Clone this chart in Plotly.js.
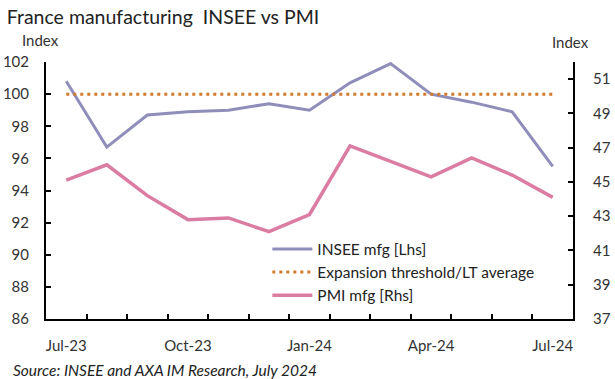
<!DOCTYPE html>
<html>
<head>
<meta charset="utf-8">
<script src="https://cdn.plot.ly/plotly-3.0.1.min.js"></script>
<style>html,body{margin:0;padding:0;background:#fff;}#chart{width:615px;height:379px;}</style>
</head>
<body>
<div id="chart"></div>
<script>
const months = ["Jul-23","Aug-23","Sep-23","Oct-23","Nov-23","Dec-23","Jan-24","Feb-24","Mar-24","Apr-24","May-24","Jun-24","Jul-24"];
const inseeMfg = [100.8, 96.7, 98.7, 98.9, 99.0, 99.4, 99.0, 100.7, 101.9, 100.0, 99.5, 98.9, 95.5];
const threshold = [100, 100, 100, 100, 100, 100, 100, 100, 100, 100, 100, 100, 100];
const pmiMfg = [45.1, 46.0, 44.2, 42.8, 42.9, 42.1, 43.1, 47.1, 46.2, 45.3, 46.4, 45.4, 44.1];

const FONT = "Lato, 'Open Sans', sans-serif";
const traces = [
  {x: months, y: inseeMfg, name: "INSEE mfg [Lhs]", type: "scatter", mode: "lines",
   line: {color: "#8F8DBA", width: 3}, yaxis: "y"},
  {x: months, y: threshold, name: "Expansion threshold/LT average", type: "scatter", mode: "lines",
   line: {color: "#D27A2C", width: 3, dash: "3px,4px"}, yaxis: "y"},
  {x: months, y: pmiMfg, name: "PMI mfg [Rhs]", type: "scatter", mode: "lines",
   line: {color: "#DB7CA3", width: 3.5}, yaxis: "y2"}
];

const layout = {
  width: 615, height: 379,
  margin: {l: 46, r: 42, t: 62, b: 60},
  paper_bgcolor: "#fff", plot_bgcolor: "#fff",
  font: {family: FONT, color: "#222", size: 15},
  showlegend: true,
  title: {text: "France manufacturing  INSEE vs PMI", x: 0.011, xanchor: "left", y: 0.955, yanchor: "middle",
          font: {family: FONT, size: 19.5, color: "#222"}},
  xaxis: {type: "category", range: [-0.5, 12.5], tickmode: "linear", tick0: 0, dtick: 1, ticklabelstep: 3,
          tickangle: 0, tickson: "boundaries", ticks: "inside", ticklen: 5, tickwidth: 2, tickcolor: "#000",
          showline: true, linecolor: "#000", linewidth: 2, showgrid: false, zeroline: false,
          ticklabelstandoff: 12, tickfont: {size: 15, color: "#333"}},
  yaxis: {range: [86, 102], tick0: 86, dtick: 2, ticks: "inside", ticklen: 5, tickwidth: 2, tickcolor: "#000",
          showline: true, linecolor: "#000", linewidth: 2, showgrid: false, zeroline: false,
          ticklabelstandoff: 12, tickfont: {size: 15, color: "#333"}},
  yaxis2: {overlaying: "y", side: "right", range: [37, 52], tick0: 37, dtick: 2, ticks: "inside", ticklen: 5,
           tickwidth: 2, tickcolor: "#000", showline: true, linecolor: "#000", linewidth: 2,
           showgrid: false, zeroline: false, ticklabelstandoff: 15, tickfont: {size: 15, color: "#333"}},
  legend: {x: 0.42, y: 0.337, xanchor: "left", yanchor: "top", bgcolor: "rgba(0,0,0,0)",
           font: {size: 15.5, color: "#222"}, tracegroupgap: 0, itemwidth: 40},
  annotations: [
    {text: "Index", xref: "paper", yref: "paper", x: -0.01, y: 1.087, xanchor: "center", yanchor: "middle",
     showarrow: false, font: {size: 15, color: "#333"}},
    {text: "Index", xref: "paper", yref: "paper", x: 0.996, y: 1.077, xanchor: "center", yanchor: "middle",
     showarrow: false, font: {size: 15, color: "#333"}},
    {text: "<i>Source: INSEE and AXA IM Research, July 2024</i>", xref: "paper", yref: "paper",
     x: -0.066, y: -0.2, xanchor: "left", yanchor: "middle", showarrow: false,
     font: {size: 15.5, color: "#222"}}
  ]
};

Plotly.newPlot("chart", traces, layout, {displayModeBar: false, staticPlot: true});
</script>
</body>
</html>
